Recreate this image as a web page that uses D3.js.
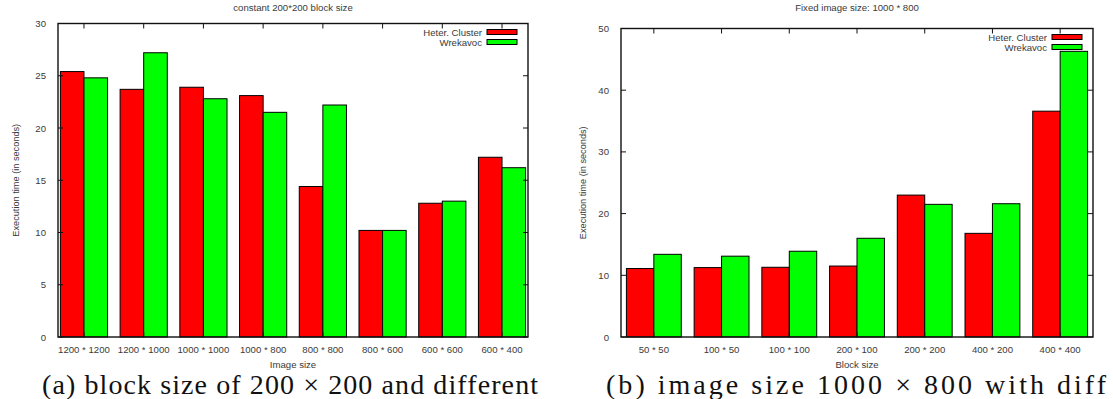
<!DOCTYPE html>
<html>
<head>
<meta charset="utf-8">
<script src="https://cdn.jsdelivr.net/npm/d3@7"></script>
<style>
  html, body { margin: 0; padding: 0; background: #fff; }
  svg { display: block; }
  text { font-family: "Liberation Sans", Arial, sans-serif; fill: #3a3a3a; }
  .caption { font-family: "Liberation Serif", "DejaVu Serif", serif; fill: #111; }
</style>
</head>
<body>
<div id="chart"></div>
<script>
const seriesNames = ['Heter. Cluster', 'Wrekavoc'];
const seriesColors = ['#ff0000', '#00ff00'];

// left panel: constant block size, varying image size
const imageSizes = ['1200 * 1200', '1200 * 1000', '1000 * 1000', '1000 * 800', '800 * 800', '800 * 600', '600 * 600', '600 * 400'];
const imgHeter = [25.4, 23.7, 23.9, 23.1, 14.4, 10.2, 12.8, 17.2];
const imgWrek = [24.8, 27.2, 22.8, 21.5, 22.2, 10.2, 13.0, 16.2];
const imgTicks = [0, 5, 10, 15, 20, 25, 30];

// right panel: fixed image size, varying block size
const blockSizes = ['50 * 50', '100 * 50', '100 * 100', '200 * 100', '200 * 200', '400 * 200', '400 * 400'];
const blkHeter = [11.1, 11.25, 11.3, 11.5, 23.0, 16.8, 36.6];
const blkWrek = [13.4, 13.1, 13.9, 16.0, 21.5, 21.6, 46.3];
const blkTicks = [0, 10, 20, 30, 40, 50];

const W = 1113, H = 399;
const svg = d3.select('#chart').append('svg')
  .attr('width', W)
  .attr('height', H);

const fs = 9.6;

function drawPanel(opt) {
  const { left, right, top, bottom } = opt;
  const g = svg.append('g');

  const x = d3.scaleBand()
    .domain(opt.categories)
    .range([left, right])
    .paddingInner(opt.padIn)
    .paddingOuter(opt.padOut);

  const x1 = d3.scaleBand()
    .domain(d3.range(seriesNames.length))
    .range([0, x.bandwidth()]);

  const y = d3.scaleLinear()
    .domain([0, opt.yMax])
    .range([bottom, top]);

  // bars
  const groups = g.selectAll('g.grp')
    .data(opt.categories.map((c, i) => ({ c, vals: opt.series.map(s => s[i]) })))
    .join('g')
    .attr('class', 'grp')
    .attr('transform', d => `translate(${x(d.c)},0)`);

  groups.selectAll('rect')
    .data(d => d.vals)
    .join('rect')
    .attr('x', (d, i) => x1(i))
    .attr('y', d => y(d))
    .attr('width', x1.bandwidth())
    .attr('height', d => y(0) - y(d))
    .attr('fill', (d, i) => seriesColors[i])
    .attr('stroke', '#000')
    .attr('stroke-width', 1);

  // frame
  g.append('rect')
    .attr('x', left).attr('y', top)
    .attr('width', right - left).attr('height', bottom - top)
    .attr('fill', 'none')
    .attr('stroke', '#111')
    .attr('stroke-width', 1.4);

  // y ticks (inside, mirrored)
  const tl = 5;
  opt.yTicks.forEach(t => {
    const yy = y(t);
    g.append('line').attr('x1', left).attr('x2', left + tl).attr('y1', yy).attr('y2', yy).attr('stroke', '#111');
    g.append('line').attr('x1', right).attr('x2', right - tl).attr('y1', yy).attr('y2', yy).attr('stroke', '#111');
    g.append('text')
      .attr('x', left - 12)
      .attr('y', yy + 3.5)
      .attr('text-anchor', 'end')
      .attr('font-size', fs)
      .text(t);
  });

  // x ticks at group centres, top and bottom
  opt.categories.forEach(c => {
    const xx = x(c) + x.bandwidth() / 2;
    g.append('line').attr('x1', xx).attr('x2', xx).attr('y1', bottom).attr('y2', bottom - tl).attr('stroke', '#111');
    g.append('line').attr('x1', xx).attr('x2', xx).attr('y1', top).attr('y2', top + tl).attr('stroke', '#111');
    g.append('text')
      .attr('x', xx)
      .attr('y', bottom + 16)
      .attr('text-anchor', 'middle')
      .attr('font-size', fs)
      .text(c);
  });

  // titles
  g.append('text')
    .attr('x', (left + right) / 2)
    .attr('y', opt.titleY)
    .attr('text-anchor', 'middle')
    .attr('font-size', fs)
    .text(opt.title);

  g.append('text')
    .attr('x', (left + right) / 2)
    .attr('y', bottom + 31)
    .attr('text-anchor', 'middle')
    .attr('font-size', fs)
    .text(opt.xLabel);

  g.append('text')
    .attr('transform', `translate(${opt.yLabelX},${(top + bottom) / 2}) rotate(-90)`)
    .attr('text-anchor', 'middle')
    .attr('font-size', 9.2)
    .text('Execution time (in seconds)');

  // legend
  const lg = g.append('g').attr('transform', `translate(${right - 41},${top + 6})`);
  seriesNames.forEach((s, i) => {
    lg.append('rect')
      .attr('x', 0).attr('y', i * 10)
      .attr('width', 30).attr('height', 5)
      .attr('fill', seriesColors[i])
      .attr('stroke', '#000');
    lg.append('text')
      .attr('x', -5).attr('y', i * 10 + 6)
      .attr('text-anchor', 'end')
      .attr('font-size', fs)
      .text(s);
  });

  // caption along the bottom edge
  svg.append('text')
    .attr('class', 'caption')
    .attr('x', opt.captionX)
    .attr('y', 394)
    .attr('font-size', 28)
    .attr('textLength', opt.captionW)
    .attr('lengthAdjust', 'spacing')
    .text(opt.caption);
}

drawPanel({
  categories: imageSizes,
  series: [imgHeter, imgWrek],
  yMax: 30,
  yTicks: imgTicks,
  left: 58, right: 528, top: 23.5, bottom: 337,
  padIn: 0.21, padOut: 0.04,
  title: 'constant 200*200 block size',
  titleY: 11,
  xLabel: 'Image size',
  yLabelX: 19,
  caption: '(a) block size of 200 × 200 and different',
  captionX: 42,
  captionW: 496
});

drawPanel({
  categories: blockSizes,
  series: [blkHeter, blkWrek],
  yMax: 50,
  yTicks: blkTicks,
  left: 621, right: 1093, top: 28.5, bottom: 337,
  padIn: 0.19, padOut: 0.08,
  title: 'Fixed image size: 1000 * 800',
  titleY: 11,
  xLabel: 'Block size',
  yLabelX: 586,
  caption: '(b) image size 1000 × 800 with diff',
  captionX: 606,
  captionW: 500
});
</script>
</body>
</html>
